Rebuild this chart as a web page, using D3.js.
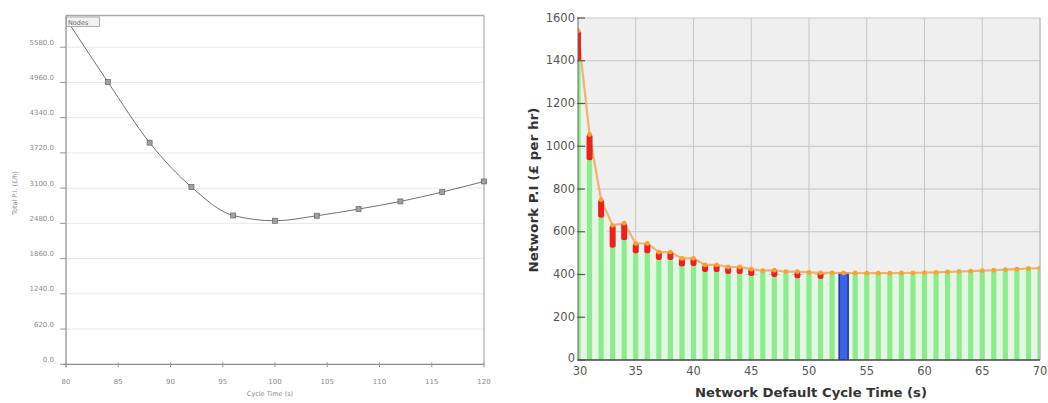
<!DOCTYPE html>
<html><head><meta charset="utf-8">
<script src="https://cdn.jsdelivr.net/npm/d3@7"></script>
<style>body{margin:0;background:#fff;} svg{display:block;}</style>
</head><body><svg id="c" width="1048" height="403"></svg>
<script>
// ---------- Left chart data ----------
const leftCycle = [80, 84, 88, 92, 96, 100, 104, 108, 112, 116, 120];
const leftPI = [6080, 4970, 3900, 3120, 2619, 2526, 2614, 2732, 2866, 3031, 3218];
const leftYTicks = [0, 620, 1240, 1860, 2480, 3100, 3720, 4340, 4960, 5580];
const leftXTicks = [80, 85, 90, 95, 100, 105, 110, 115, 120];
const leftLegend = "Nodes";
const leftXTitle = "Cycle Time (s)";
const leftYTitle = "Total P.I. (£/h)";

// ---------- Right chart data ----------
const rightCycle = [30,31,32,33,34,35,36,37,38,39,40,41,42,43,44,45,46,47,48,49,50,
                    51,52,53,54,55,56,57,58,59,60,61,62,63,64,65,66,67,68,69,70];
const rightMax = [1540,1055,750,630,640,545,545,505,505,475,475,445,445,435,435,425,418,420,413,413,410,
                  408,408,407,407,406,406,406,407,408,409,410,412,414,416,418,420,423,425,428,430];
const rightMin = [1400,935,665,525,560,500,500,468,468,438,440,412,412,402,402,393,418,388,413,383,410,
                  379,408,407,407,406,406,406,407,408,409,410,412,414,416,418,420,423,425,428,430];
const highlightCycle = 53;
const rightYTicks = [0, 200, 400, 600, 800, 1000, 1200, 1400, 1600];
const rightXTicks = [30, 35, 40, 45, 50, 55, 60, 65, 70];
const rightXTitle = "Network Default Cycle Time (s)";
const rightYTitle = "Network P.I (£ per hr)";

const svg = d3.select("#c");

// ================= LEFT CHART =================
(function(){
  const x = d3.scaleLinear().domain([80, 120]).range([66, 484]);
  const y = d3.scaleLinear().domain([0, 6138]).range([364.3, 15.5]);
  const g = svg.append("g");
  const fnt = "DejaVu Sans, sans-serif";

  g.selectAll(".lg").data(leftYTicks.filter(d => d > 0)).join("line")
    .attr("x1", x(80)).attr("x2", x(120))
    .attr("y1", d => y(d)).attr("y2", d => y(d))
    .attr("stroke", "#e8e8e8").attr("stroke-width", 1);

  // frame
  g.append("line").attr("x1", x(80)).attr("x2", x(120)).attr("y1", y(6138)).attr("y2", y(6138))
    .attr("stroke", "#a8a8a8").attr("stroke-width", 1.5);
  g.append("line").attr("x1", x(120)).attr("x2", x(120)).attr("y1", y(6138)).attr("y2", y(0))
    .attr("stroke", "#a8a8a8").attr("stroke-width", 1.2);
  g.append("line").attr("x1", x(80)).attr("x2", x(80)).attr("y1", y(6138)).attr("y2", y(0) + 3)
    .attr("stroke", "#8a8a8a").attr("stroke-width", 1.2);
  g.append("line").attr("x1", x(80) - 3).attr("x2", x(120)).attr("y1", y(0)).attr("y2", y(0))
    .attr("stroke", "#8a8a8a").attr("stroke-width", 1.2);

  // y ticks
  g.selectAll(".yt").data(leftYTicks).join("line")
    .attr("x1", x(80) - 6).attr("x2", x(80)).attr("y1", d => y(d)).attr("y2", d => y(d))
    .attr("stroke", "#999");
  g.selectAll(".yl").data(leftYTicks).join("text")
    .attr("x", 54).attr("y", d => y(d) - 2.5)
    .attr("text-anchor", "end").attr("font-family", fnt).attr("font-size", 7)
    .attr("fill", "#8a8a8a").text(d => d.toFixed(1));

  // x ticks
  g.selectAll(".xt").data(leftXTicks).join("line")
    .attr("x1", d => x(d)).attr("x2", d => x(d)).attr("y1", y(0) - 2).attr("y2", y(0) + 3)
    .attr("stroke", "#999");
  g.selectAll(".xl").data(leftXTicks).join("text")
    .attr("x", d => x(d)).attr("y", 384)
    .attr("text-anchor", "middle").attr("font-family", fnt).attr("font-size", 7)
    .attr("fill", "#8a8a8a").text(d => d);

  g.append("text").attr("x", 270).attr("y", 396).attr("text-anchor", "middle")
    .attr("font-family", fnt).attr("font-size", 6.5).attr("fill", "#8a8a8a").text(leftXTitle);
  g.append("text").attr("transform", "translate(17,193) rotate(-90)").attr("text-anchor", "middle")
    .attr("font-family", fnt).attr("font-size", 6.5).attr("fill", "#8a8a8a").text(leftYTitle);

  const pts = leftCycle.map((c, i) => [c, leftPI[i]]);
  g.append("path").datum(pts)
    .attr("d", d3.line().x(d => x(d[0])).y(d => y(d[1])).curve(d3.curveMonotoneX))
    .attr("fill", "none").attr("stroke", "#707070").attr("stroke-width", 1);
  g.selectAll(".mk").data(pts.slice(1)).join("rect")
    .attr("x", d => x(d[0]) - 2.5).attr("y", d => y(d[1]) - 2.5)
    .attr("width", 5).attr("height", 5)
    .attr("fill", "#a0a0a0").attr("stroke", "#666").attr("stroke-width", 0.7);

  // legend box
  g.append("rect").attr("x", 66.5).attr("y", 17).attr("width", 33).attr("height", 9.5)
    .attr("fill", "#f2f2f2").attr("stroke", "#999").attr("stroke-width", 0.8);
  g.append("text").attr("x", 68).attr("y", 24.5).attr("font-family", fnt).attr("font-size", 6.5)
    .attr("fill", "#666").text(leftLegend);
})();

// ================= RIGHT CHART =================
(function(){
  const x = d3.scaleLinear().domain([30, 70]).range([578, 1040]);
  const y = d3.scaleLinear().domain([0, 1600]).range([360, 18]);
  const g = svg.append("g");
  const fnt = "DejaVu Sans, Verdana, sans-serif";
  const unit = x(31) - x(30);

  svg.append("defs").append("clipPath").attr("id", "rc")
    .append("rect").attr("x", x(30)).attr("y", y(1600)).attr("width", x(70) - x(30)).attr("height", y(0) - y(1600));

  g.append("rect").attr("x", x(30)).attr("y", y(1600)).attr("width", x(70) - x(30)).attr("height", y(0) - y(1600))
    .attr("fill", "#efefef");

  g.selectAll(".hg").data(rightYTicks.filter(d => d > 0)).join("line")
    .attr("x1", x(30)).attr("x2", x(70)).attr("y1", d => y(d)).attr("y2", d => y(d))
    .attr("stroke", "#c6c6c6").attr("stroke-width", 1);
  g.selectAll(".vg").data(rightXTicks.filter(d => d > 30)).join("line")
    .attr("x1", d => x(d)).attr("x2", d => x(d)).attr("y1", y(1600)).attr("y2", y(0))
    .attr("stroke", "#c6c6c6").attr("stroke-width", 1);

  const data = rightCycle.map((c, i) => ({c, max: rightMax[i], min: rightMin[i]}));
  const pg = g.append("g").attr("clip-path", "url(#rc)");

  // pale band behind each bar
  pg.selectAll(".band").data(data).join("rect")
    .attr("x", d => x(d.c) - unit / 2).attr("width", unit)
    .attr("y", d => y(d.min)).attr("height", d => y(0) - y(d.min))
    .attr("fill", "#e3f8e3");
  // green stripes
  pg.selectAll(".bar").data(data.filter(d => d.c !== highlightCycle)).join("rect")
    .attr("x", d => x(d.c) - 2.6).attr("width", 5.2)
    .attr("y", d => y(d.min)).attr("height", d => y(0) - y(d.min))
    .attr("fill", "#8fea8f");
  // highlight bar
  pg.selectAll(".hb").data(data.filter(d => d.c === highlightCycle)).join("rect")
    .attr("x", d => x(d.c) - 4.5).attr("width", 9)
    .attr("y", d => y(d.max)).attr("height", d => y(0) - y(d.max))
    .attr("fill", "#3d62e6").attr("stroke", "#1c35a8").attr("stroke-width", 1.5);

  // orange line
  pg.append("path").datum(data)
    .attr("d", d3.line().x(d => x(d.c)).y(d => y(d.max)))
    .attr("fill", "none").attr("stroke", "#f4a65c").attr("stroke-width", 2.2).attr("opacity", 0.85);

  // red ranges
  pg.selectAll(".rng").data(data.filter(d => d.max - d.min > 1)).join("rect")
    .attr("x", d => x(d.c) - 3).attr("width", 6)
    .attr("y", d => y(d.max)).attr("height", d => y(d.min) - y(d.max))
    .attr("rx", 2).attr("fill", "#e8231b");

  // orange dots
  pg.selectAll(".dot").data(data).join("circle")
    .attr("cx", d => x(d.c)).attr("cy", d => y(d.max)).attr("r", 2.4)
    .attr("fill", "#f3a233");

  // axes
  g.append("line").attr("x1", x(30)).attr("x2", x(30)).attr("y1", y(1600)).attr("y2", y(0))
    .attr("stroke", "#666").attr("stroke-width", 1);
  g.append("line").attr("x1", x(70)).attr("x2", x(70)).attr("y1", y(1600)).attr("y2", y(0))
    .attr("stroke", "#bbb").attr("stroke-width", 1);
  g.append("line").attr("x1", x(30)).attr("x2", x(70)).attr("y1", y(0)).attr("y2", y(0))
    .attr("stroke", "#444").attr("stroke-width", 1.3);

  g.selectAll(".ytk").data(rightYTicks).join("line")
    .attr("x1", x(30) - 1).attr("x2", x(30) + 7).attr("y1", d => y(d)).attr("y2", d => y(d))
    .attr("stroke", "#555").attr("stroke-width", 1.2);
  g.selectAll(".ylb").data(rightYTicks).join("text")
    .attr("x", x(30) - 3).attr("y", d => y(d) + (d === 0 ? 1.5 : 3.5))
    .attr("text-anchor", "end").attr("font-family", fnt).attr("font-size", 11.5)
    .attr("fill", "#555").text(d => d);
  g.selectAll(".xlb").data(rightXTicks).join("text")
    .attr("x", d => x(d) + (d === 30 ? 2 : 0)).attr("y", 374.5)
    .attr("text-anchor", "middle").attr("font-family", fnt).attr("font-size", 11.5)
    .attr("fill", "#555").text(d => d);

  g.append("text").attr("x", 811).attr("y", 397).attr("text-anchor", "middle")
    .attr("font-family", fnt).attr("font-size", 12.5).attr("font-weight", "bold")
    .attr("fill", "#333").attr("textLength", 232).attr("lengthAdjust", "spacingAndGlyphs").text(rightXTitle);
  g.append("text").attr("transform", "translate(538,190) rotate(-90)").attr("text-anchor", "middle")
    .attr("font-family", fnt).attr("font-size", 12.5).attr("font-weight", "bold")
    .attr("fill", "#333").attr("textLength", 165).attr("lengthAdjust", "spacingAndGlyphs").text(rightYTitle);
})();
</script>
</body></html>
